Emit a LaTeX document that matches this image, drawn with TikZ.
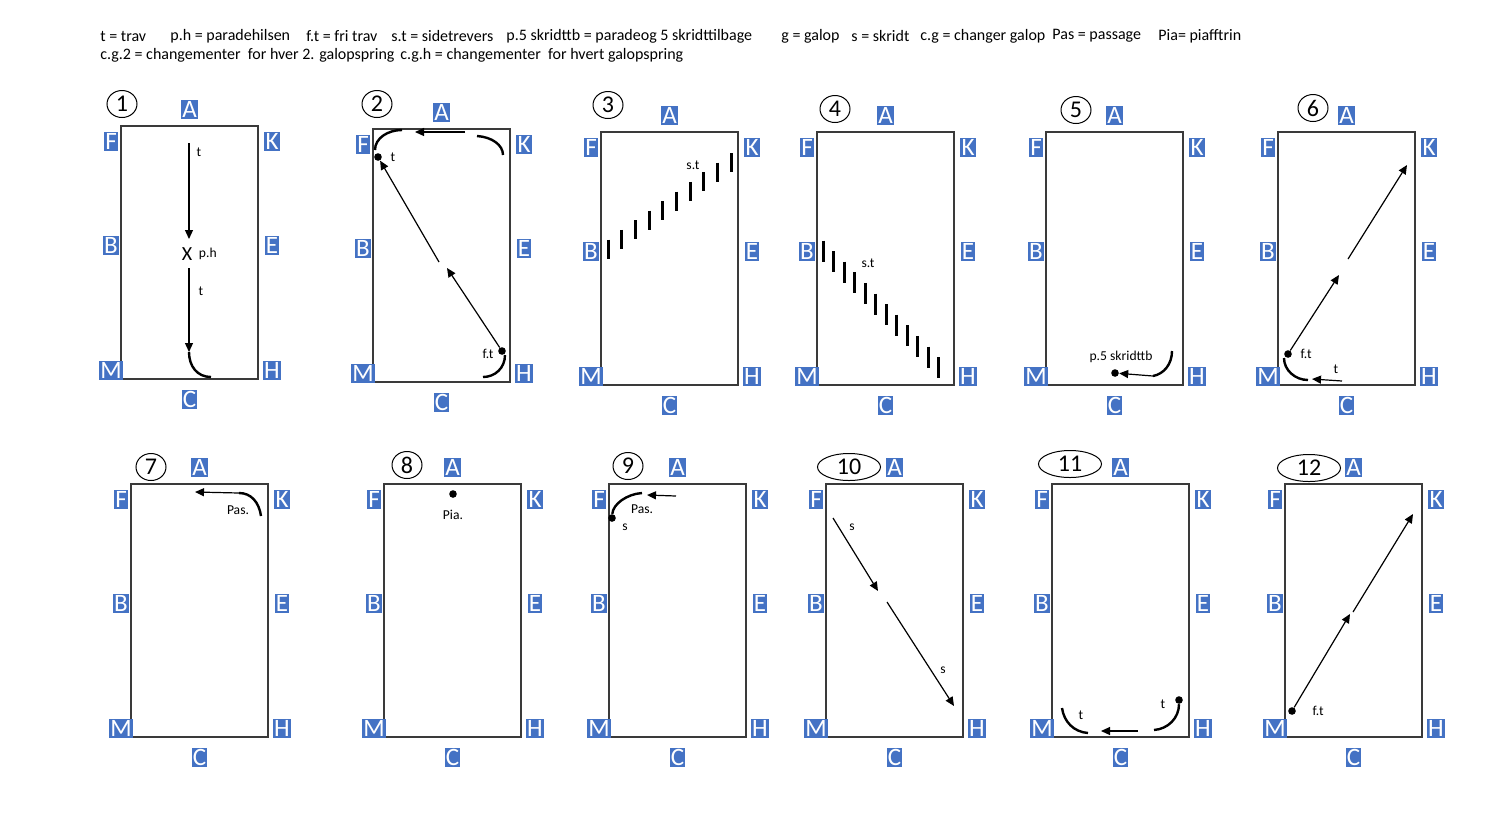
\documentclass[tikz,border=0pt]{standalone}
\usepackage{fontspec}
\setmainfont{Carlito}
\usepackage{xcolor}
\usetikzlibrary{arrows.meta,shapes.geometric,positioning}

\definecolor{letterblue}{HTML}{4472C4}
\definecolor{fence}{HTML}{3A3A3A}

\tikzset{
  arena/.style={draw=fence, line width=0.8pt, minimum width=68.5pt,
    minimum height=126.5pt, inner sep=0pt, outer sep=0pt, anchor=north west},
  letter/.style={fill=letterblue, text=white, inner xsep=0.6pt, inner ysep=0pt,
    minimum height=9.5pt, font=\fontsize{12.5}{12.5}\selectfont},
  badge/.style={draw, ellipse, line width=0.5pt, minimum height=13.5pt, inner sep=0pt,
    font=\fontsize{12}{12}\selectfont},
  hdr/.style={anchor=west, inner sep=0pt, font=\fontsize{8}{9}\selectfont},
  lbl/.style={inner sep=0pt, font=\fontsize{6.8}{7.5}\selectfont},
  go/.style={line width=0.6pt, -{Triangle[length=4.5pt,width=4pt]}},
  turn/.style={line width=1.2pt},
  tick/.style={line width=1.5pt},
  dot/.style={circle, fill, inner sep=0pt, minimum size=3.8pt},
}

\begin{document}
\begin{tikzpicture}[x=0.5pt, y=-0.5pt]
  \useasboundingbox (0,0) rectangle (1500,816);

  % key
  \node[hdr] (k1) at (100,36) {t = trav};
  \node[hdr] (k2) at (170,36) {p.h = paradehilsen};
  \node[hdr] (k3) at (306,36) {f.t = fri trav};
  \node[hdr] (k4) at (391,36) {s.t = sidetrevers};
  \node[hdr] (k5) at (506,36) {p.5 skridttb = paradeog 5 skridttilbage};
  \node[hdr] (k6) at (781,36) {g = galop};
  \node[hdr] (k7) at (851,36) {s = skridt};
  \node[hdr] (k8) at (920,36) {c.g = changer galop};
  \node[hdr] (k9) at (1052,36) {Pas = passage};
  \node[hdr] (k10) at (1158,36) {Pia= piafftrin};
  \node[hdr] (k11) at (100,55) {c.g.2 = changementer\ \ for hver 2. galopspring};
  \node[hdr] (k12) at (400,55) {c.g.h = changementer\ \ for hvert galopspring};

  % arenas with letters and numbers
  \foreach \n/\x/\y/\bx/\by/\bw in {1/121/126/122/104/15, 2/373/129/377/104/15,
      3/601/132/608/105/15, 4/817/132/835/109/15, 5/1046/132/1076/110/15,
      6/1278/132/1313/108/15, 7/131/484/151/467/15, 8/384/484/407/465/15,
      9/609/484/628/466/15, 10/826/484/849/467/31.5, 11/1052/484/1070/464/31.5,
      12/1285/484/1309/468/31.5} {
    \node[arena] (r\n) at (\x,\y) {};
    \node[badge, minimum width=\bw pt] (n\n) at (\bx,\by) {\n};
    \foreach \l/\a/\dx/\dy in {A/north/0/8.5, C/south/0/-10,
        F/north west/-5/-7.5, K/north east/7/-7.5,
        B/west/-5/3.5, E/east/7/3.5,
        M/south west/-5/4.5, H/south east/7/4.5}
      \node[letter] (\l\n) at ([xshift=\dx pt, yshift=\dy pt]r\n.\a) {\l};
  }

  % 1
  \draw[go] (189,143) -- (189,239);
  \node[lbl] (t1a) at (199,152) {t};
  \node[inner sep=0pt, font=\fontsize{10}{10}\selectfont] (x1) at (187,254) {X};
  \node[lbl, right=3pt of x1] (ph1) {p.h};
  \draw[go] (189,268) -- (189,352);
  \node[lbl] (t1b) at (201,291) {t};
  \draw[turn] (189,352) .. controls (189,366) and (197,377) .. (211,377);

  % 2
  \draw[turn] (375,150) .. controls (375,138) and (388,130) .. (402,130);
  \draw[go] (465,132) -- (415,132);
  \draw[turn] (477,136) .. controls (492,137) and (503,145) .. (503,155);
  \node[dot] (d2a) at (378,157) {};
  \node[lbl, right=4pt of d2a] (t2) {t};
  \draw[go] (439,262) -- (d2a);
  \node[dot] (d2b) at (502,351) {};
  \draw[go] (d2b) -- (447,268);
  \node[lbl] (ft2) at (488,354) {f.t};
  \draw[turn] (505,355) .. controls (505,368) and (495,377) .. (483,377);

  % 3
  \foreach \i in {0,...,9}
    \draw[tick] ({608+13.7*\i},{239.5-9.6*\i}) -- ++(0,19);
  \node[lbl] (st3) at (693,165) {s.t};

  % 4
  \foreach \i in {0,...,11}
    \draw[tick] ({823+10.5*\i},{240.5+10.6*\i}) -- ++(0,21);
  \node[lbl] (st4) at (868,263) {s.t};

  % 5
  \node[dot] (d5) at (1115,373) {};
  \draw[turn] (1172,351) .. controls (1172,364) and (1164,374) .. (1153,376);
  \draw[go] (1153,376) -- (d5);
  \node[lbl] (p5) at (1121,357) {p.5 skridttb};

  % 6
  \node[dot] (d6) at (1288,354) {};
  \node[lbl, right=4pt of d6] (ft6) {f.t};
  \draw[turn] (1284,358) .. controls (1284,370) and (1295,380) .. (1308,380);
  \draw[go] (1342,381) -- (1312,379);
  \node[lbl] (t6) at (1336,369) {t};
  \draw[go] (d6) -- (1339,275);
  \draw[go] (1348,259) -- (1407,165);

  % 7
  \draw[turn] (261,516) .. controls (259,502) and (251,493) .. (239,493);
  \draw[go] (239,493) -- (195,492);
  \node[lbl] (pas7) at (238,510) {Pas.};

  % 8
  \node[dot] (d8) at (453,494) {};
  \node[lbl, below=6pt of d8] (pia8) {Pia.};

  % 9
  \draw[go] (676,496) -- (647,495);
  \node[dot] (d9) at (612,518) {};
  \draw[turn] (642,493) .. controls (627,494) and (613,504) .. (d9);
  \node[lbl] (pas9) at (642,509) {Pas.};
  \node[lbl] (s9) at (625,527) {s};

  % 10
  \draw[go] (833,518) -- (878,591);
  \draw[go] (887,602) -- (954,706);
  \node[lbl] (s10a) at (852,527) {s};
  \node[lbl] (s10b) at (943,670) {s};

  % 11
  \node[dot] (d11) at (1179,700) {};
  \node[lbl] (t11a) at (1163,704) {t};
  \draw[turn] (d11) .. controls (1179,718) and (1168,729) .. (1154,730);
  \draw[go] (1138,731) -- (1101,731);
  \draw[turn] (1062,708) .. controls (1064,722) and (1074,732) .. (1088,733);
  \node[lbl] (t11b) at (1081,715) {t};

  % 12
  \node[dot] (d12) at (1292,711) {};
  \node[lbl, right=8pt of d12] (ft12) {f.t};
  \draw[go] (d12) -- (1350,614);
  \draw[go] (1353,612) -- (1413,514);
\end{tikzpicture}
\end{document}
